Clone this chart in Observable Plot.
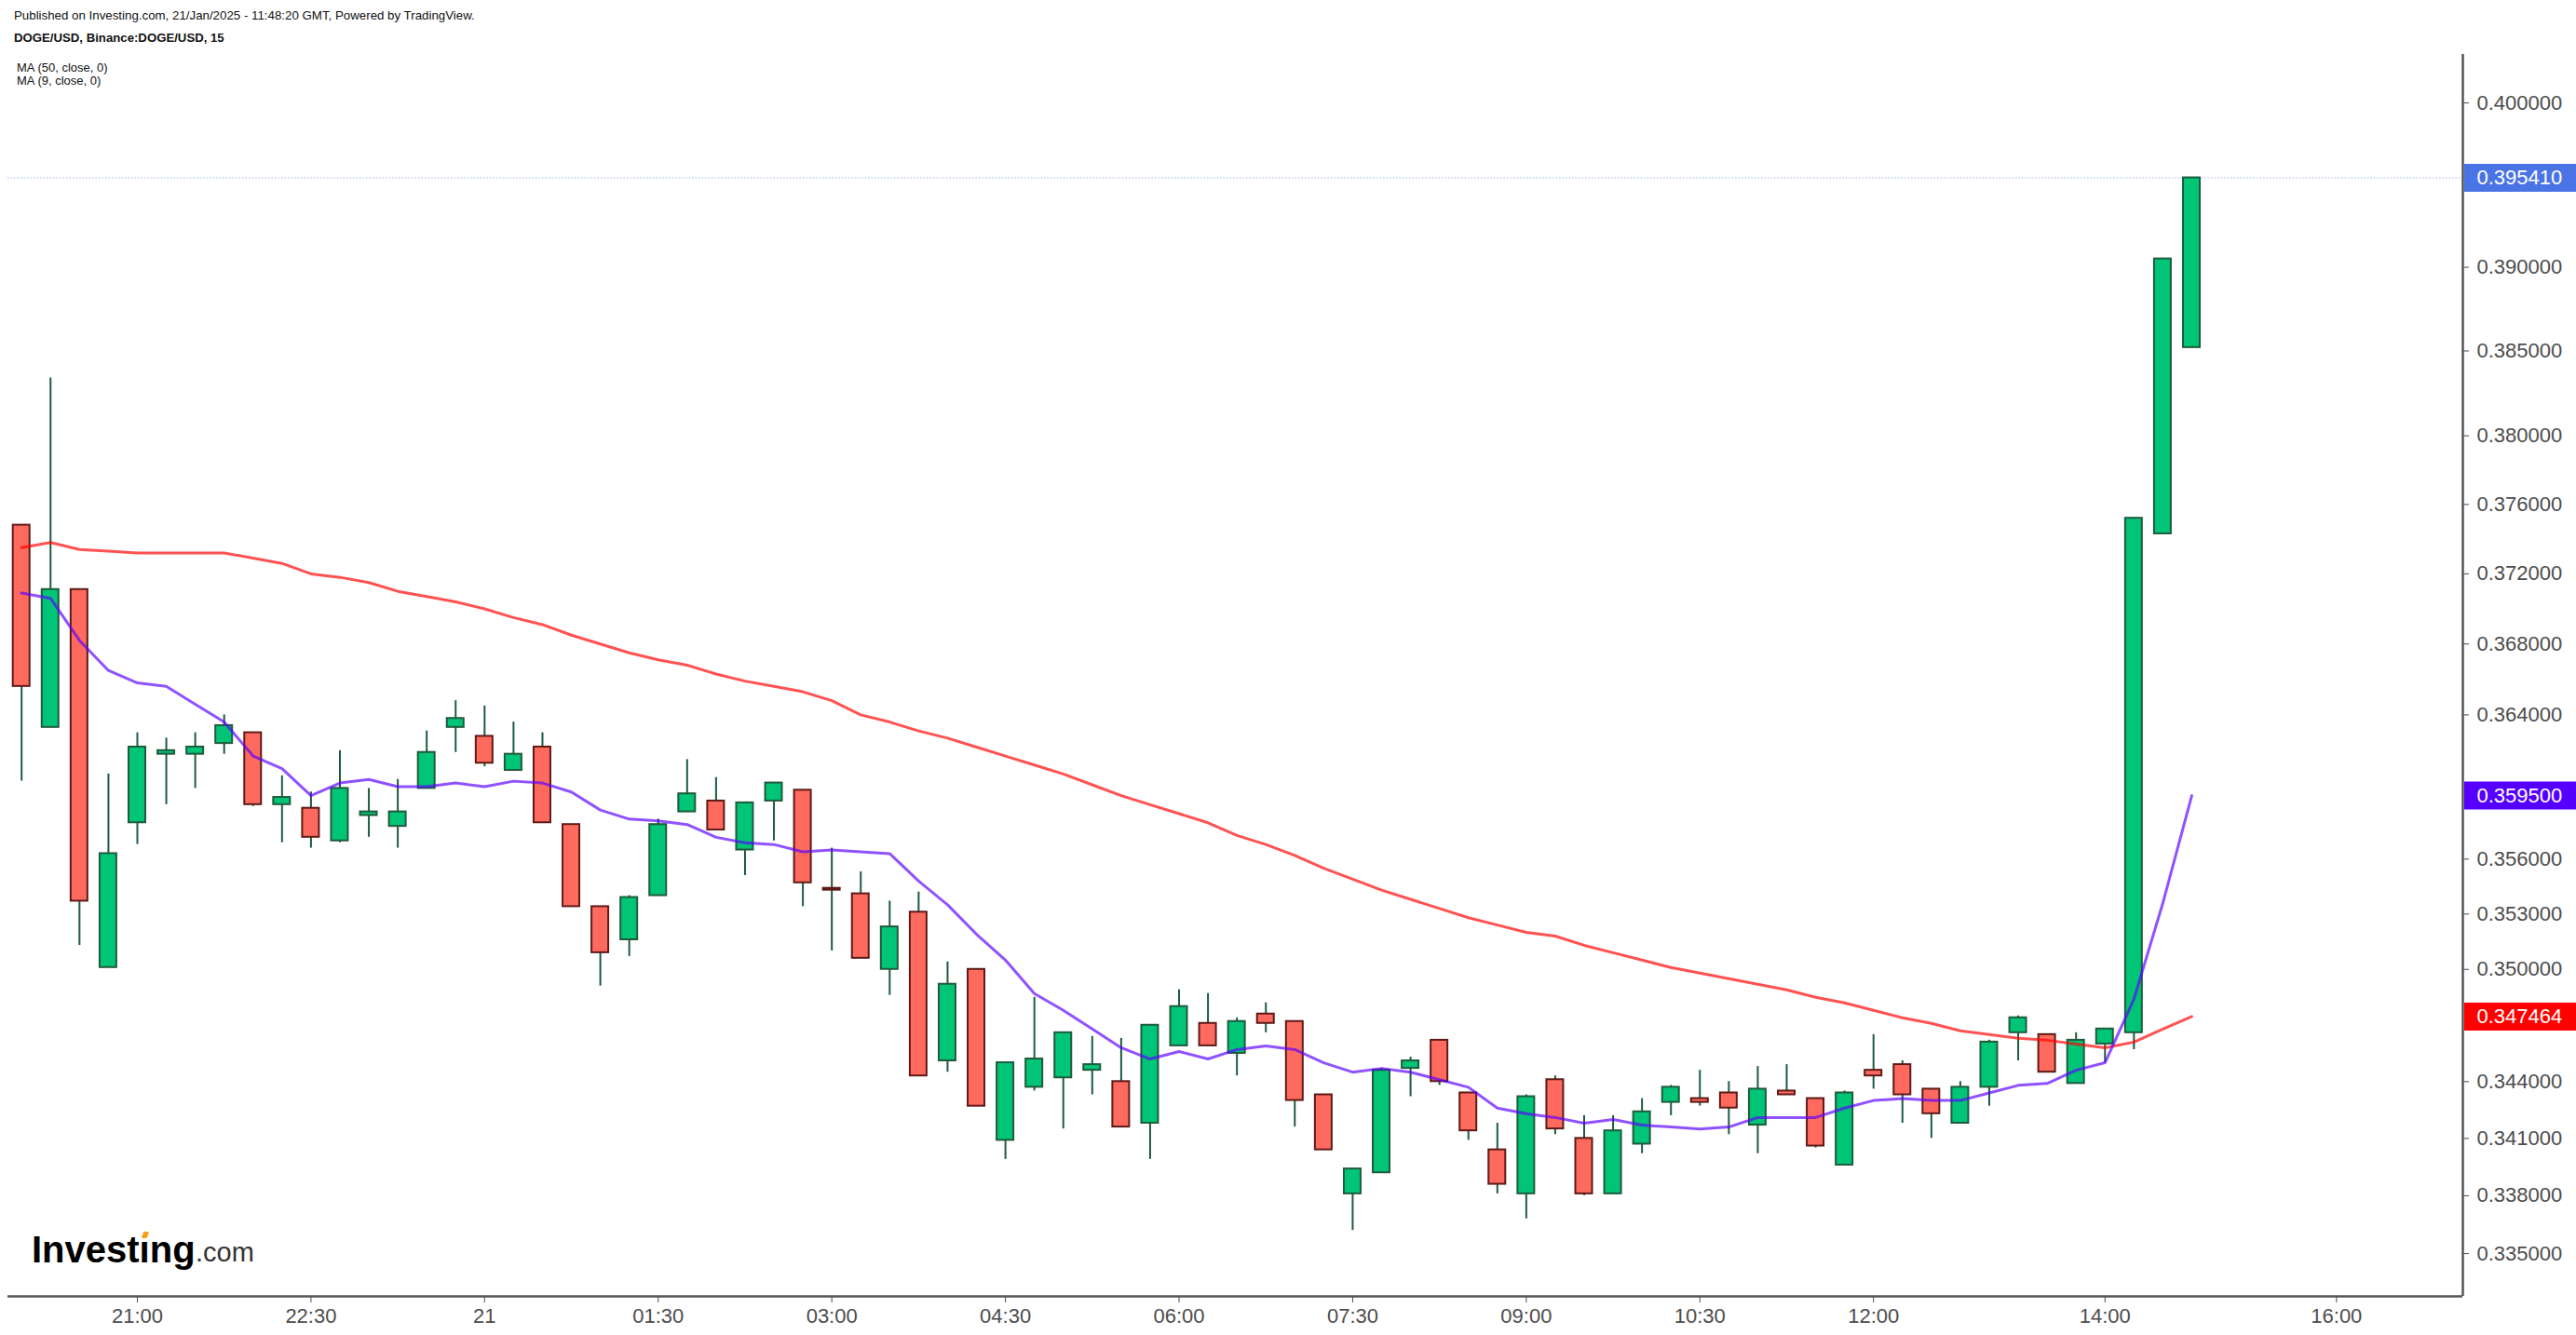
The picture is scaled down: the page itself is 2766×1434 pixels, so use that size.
<!DOCTYPE html>
<html>
<head>
<meta charset="utf-8">
<script src="https://cdn.jsdelivr.net/npm/d3@7"></script>
<script src="https://cdn.jsdelivr.net/npm/@observablehq/plot@0.6"></script>
<style>
  html, body { margin: 0; padding: 0; background: #ffffff; }
  #wrap { position: relative; width: 2766px; height: 1434px; overflow: hidden;
          font-family: "Liberation Sans", Arial, sans-serif; background: #fff; }
  #chart { position: absolute; left: 0; top: 0; }
  .hdr { position: absolute; left: 15px; white-space: nowrap; color: #111; line-height: 1; }
  .logo { position: absolute; white-space: nowrap; line-height: 1; }
  .dot { position: absolute; left: 3px; top: 3px; width: 6px; height: 7px;
         background: #f5a11c; transform: skewX(-18deg); border-radius: 1px; }
</style>
</head>
<body>
<div id="wrap">
  <div id="chart"></div>
  <div class="hdr" style="top:10px;font-size:13.3px;">Published on Investing.com, 21/Jan/2025 - 11:48:20 GMT, Powered by TradingView.</div>
  <div class="hdr" style="top:34px;font-size:13.2px;font-weight:bold;">DOGE/USD, Binance:DOGE/USD, 15</div>
  <div class="hdr" style="top:66px;left:18px;font-size:13px;">MA (50, close, 0)</div>
  <div class="hdr" style="top:80px;left:18px;font-size:13px;">MA (9, close, 0)</div>
  <div class="logo" style="left:34px;top:1322px;font-size:40px;font-weight:bold;color:#000;">Invest<span style="position:relative;">ı<span class="dot"></span></span>ng</div>
  <div class="logo" style="left:210px;top:1331px;font-size:29px;color:#333;">.com</div>
</div>
<script>
// ---- Data (DOGE/USD, 15-minute candles) ----
const firstCandle = "2025-01-20T20:00";   // local chart time of the first candle
const open = [
  0.3748, 0.3633, 0.3711, 0.3501, 0.3580, 0.3618, 0.3618, 0.3624, 0.3630, 0.3590,
  0.3588, 0.3570, 0.3584, 0.3578, 0.3599, 0.3633, 0.3628, 0.3609, 0.3622, 0.3579,
  0.3534, 0.3516, 0.3540, 0.3586, 0.3592, 0.3565, 0.3592, 0.3598, 0.3544, 0.3541,
  0.3500, 0.3531, 0.3451, 0.3500, 0.3409, 0.3437, 0.3442, 0.3446, 0.3440, 0.3418,
  0.3459, 0.3471, 0.3455, 0.3476, 0.3472, 0.3433, 0.3381, 0.3392, 0.3447, 0.3462,
  0.3434, 0.3404, 0.3381, 0.3441, 0.3410, 0.3381, 0.3407, 0.3429, 0.3431, 0.3434,
  0.3417, 0.3435, 0.3431, 0.3396, 0.3446, 0.3449, 0.3436, 0.3418, 0.3437, 0.3466,
  0.3465, 0.3439, 0.3460, 0.3466, 0.3743, 0.3852
];
const high = [
  0.3748, 0.3834, 0.3711, 0.3607, 0.3630, 0.3627, 0.3630, 0.3640, 0.3630, 0.3606,
  0.3597, 0.3620, 0.3599, 0.3604, 0.3631, 0.3648, 0.3645, 0.3636, 0.3630, 0.3579,
  0.3534, 0.3540, 0.3582, 0.3615, 0.3605, 0.3591, 0.3602, 0.3598, 0.3566, 0.3553,
  0.3537, 0.3542, 0.3504, 0.3500, 0.3450, 0.3485, 0.3466, 0.3464, 0.3463, 0.3470,
  0.3489, 0.3487, 0.3474, 0.3482, 0.3472, 0.3433, 0.3394, 0.3447, 0.3453, 0.3462,
  0.3434, 0.3418, 0.3433, 0.3443, 0.3422, 0.3422, 0.3431, 0.3438, 0.3446, 0.3440,
  0.3448, 0.3449, 0.3431, 0.3435, 0.3465, 0.3451, 0.3436, 0.3440, 0.3462, 0.3475,
  0.3465, 0.3466, 0.3468, 0.3752, 0.3905, 0.39541
];
const low = [
  0.3603, 0.3633, 0.3513, 0.3501, 0.3568, 0.3590, 0.3599, 0.3618, 0.3589, 0.3569,
  0.3566, 0.3569, 0.3572, 0.3566, 0.3599, 0.3619, 0.3611, 0.3609, 0.3580, 0.3534,
  0.3491, 0.3507, 0.3540, 0.3586, 0.3576, 0.3551, 0.3570, 0.3534, 0.3510, 0.3506,
  0.3486, 0.3443, 0.3445, 0.3427, 0.3399, 0.3435, 0.3415, 0.3433, 0.3416, 0.3399,
  0.3459, 0.3459, 0.3443, 0.3466, 0.3416, 0.3404, 0.3362, 0.3392, 0.3432, 0.3438,
  0.3409, 0.3381, 0.3368, 0.3412, 0.3380, 0.3381, 0.3402, 0.3422, 0.3427, 0.3412,
  0.3402, 0.3433, 0.3405, 0.3396, 0.3436, 0.3418, 0.3410, 0.3418, 0.3427, 0.3451,
  0.3445, 0.3439, 0.3450, 0.3457, 0.3743, 0.3852
];
const close = [
  0.3656, 0.3711, 0.3537, 0.3563, 0.3622, 0.3620, 0.3622, 0.3634, 0.3590, 0.3594,
  0.3572, 0.3599, 0.3586, 0.3586, 0.3619, 0.3638, 0.3613, 0.3618, 0.3580, 0.3534,
  0.3509, 0.3539, 0.3579, 0.3596, 0.3576, 0.3591, 0.3602, 0.3547, 0.3543, 0.3506,
  0.3523, 0.3443, 0.3492, 0.3427, 0.3450, 0.3452, 0.3466, 0.3449, 0.3416, 0.3470,
  0.3480, 0.3459, 0.3472, 0.3471, 0.3430, 0.3404, 0.3394, 0.3446, 0.3451, 0.3440,
  0.3414, 0.3386, 0.3432, 0.3415, 0.3381, 0.3414, 0.3424, 0.3437, 0.3429, 0.3426,
  0.3436, 0.3433, 0.3406, 0.3434, 0.3443, 0.3433, 0.3423, 0.3437, 0.3461, 0.3474,
  0.3445, 0.3462, 0.3468, 0.3752, 0.3905, 0.39541
];
const ma50 = [
  0.3735, 0.3738, 0.3734, 0.3733, 0.3732, 0.3732, 0.3732, 0.3732, 0.3729, 0.3726,
  0.3720, 0.3718, 0.3715, 0.3710, 0.3707, 0.3704, 0.3700, 0.3695, 0.3691, 0.3685,
  0.3680, 0.3675, 0.3671, 0.3668, 0.3663, 0.3659, 0.3656, 0.3653, 0.3648, 0.3640,
  0.3636, 0.3631, 0.3627, 0.3622, 0.3617, 0.3612, 0.3607, 0.3601, 0.3595, 0.3590,
  0.3585, 0.3580, 0.3573, 0.3568, 0.3562, 0.3555, 0.3549, 0.3543, 0.3538, 0.3533,
  0.3528, 0.3524, 0.3520, 0.3518, 0.3513, 0.3509, 0.3505, 0.3501, 0.3498, 0.3495,
  0.3492, 0.3489, 0.3485, 0.3482, 0.3478, 0.3474, 0.3471, 0.3467, 0.3465, 0.3463,
  0.3462, 0.3460, 0.3458, 0.3461, 0.3468, 0.347464
];
const ma9 = [
  0.3709, 0.3706, 0.3682, 0.3665, 0.3658, 0.3656, 0.3646, 0.3636, 0.3617, 0.3610,
  0.3595, 0.3602, 0.3604, 0.3600, 0.3600, 0.3602, 0.3600, 0.3603, 0.3602, 0.3597,
  0.3587, 0.3582, 0.3581, 0.3579, 0.3572, 0.3569, 0.3568, 0.3564, 0.3565, 0.3564,
  0.3563, 0.3548, 0.3535, 0.3519, 0.3505, 0.3487, 0.3478, 0.3468, 0.3458, 0.3452,
  0.3456, 0.3452, 0.3457, 0.3459, 0.3457, 0.3450, 0.3445, 0.3447, 0.3445, 0.3441,
  0.3437, 0.3426, 0.3423, 0.3421, 0.3418, 0.3420, 0.3417, 0.3416, 0.3415, 0.3416,
  0.3421, 0.3421, 0.3421, 0.3426, 0.3430, 0.3431, 0.3430, 0.3430, 0.3434, 0.3438,
  0.3439, 0.3446, 0.3450, 0.3484, 0.3536, 0.3595
];
const yTicks = [0.335, 0.338, 0.341, 0.344, 0.350, 0.353, 0.356, 0.364, 0.368, 0.372, 0.376, 0.380, 0.385, 0.390, 0.400];
const xTickTimes = ["2025-01-20T21:00","2025-01-20T22:30","2025-01-21T00:00","2025-01-21T01:30","2025-01-21T03:00",
  "2025-01-21T04:30","2025-01-21T06:00","2025-01-21T07:30","2025-01-21T09:00","2025-01-21T10:30",
  "2025-01-21T12:00","2025-01-21T14:00","2025-01-21T16:00"];
const xTickLabels = ["21:00","22:30","21","01:30","03:00","04:30","06:00","07:30","09:00","10:30","12:00","14:00","16:00"];
const lastPrice = 0.395410, lastMA9 = 0.359500, lastMA50 = 0.347464;

// ---- Build ----
const W = 2766, H = 1434;
const mL = 8, mR = 122, mT = 58, mB = 42;
const xStart = new Date("2025-01-20T19:52:54Z");
const xEnd = new Date("2025-01-21T17:05:30Z");
const msPerPx = (xEnd - xStart) / (W - mL - mR);
const halfBody = 9 * msPerPx;

const t0 = new Date(firstCandle + "Z");
const candles = open.map((o, i) => ({
  t: d3.utcMinute.offset(t0, 15 * i),
  o, h: high[i], l: low[i], c: close[i],
  up: close[i] >= open[i],
  ma50: ma50[i], ma9: ma9[i]
}));
const tickDates = xTickTimes.map(s => new Date(s + "Z"));
const tickLabel = new Map(tickDates.map((d, i) => [+d, xTickLabels[i]]));
const tags = [
  {v: lastPrice, bg: "#4a74e6"},
  {v: lastMA9, bg: "#5500ff"},
  {v: lastMA50, bg: "#ff0000"}
];
const fmt = d3.format(".6f");

const GREEN = "#00c576", GREEN_EDGE = "#1e5b3d", RED = "#ff6a5f", RED_EDGE = "#5e1a17";

const chart = Plot.plot({
  width: W, height: H,
  marginLeft: mL, marginRight: mR, marginTop: mT, marginBottom: mB,
  x: {type: "utc", domain: [xStart, xEnd]},
  y: {type: "log", domain: [0.3328, 0.4030]},
  color: {type: "identity"},
  style: {fontFamily: "'Liberation Sans', Arial, sans-serif", fontSize: "22px", background: "transparent", overflow: "visible"},
  marks: [
    Plot.ruleY([lastPrice], {stroke: "#9cb3f2", strokeWidth: 1.2, strokeDasharray: "1.5,2"}),
    Plot.ruleX(candles, {x: "t", y1: "l", y2: "h", stroke: GREEN_EDGE, strokeWidth: 2}),
    Plot.rect(candles, {
      x1: d => new Date(+d.t - halfBody), x2: d => new Date(+d.t + halfBody),
      y1: "o", y2: "c",
      fill: d => d.up ? GREEN : RED,
      stroke: d => d.up ? GREEN_EDGE : RED_EDGE,
      strokeWidth: 2
    }),
    Plot.line(candles, {x: "t", y: "ma50", stroke: "#ff0000", strokeOpacity: 0.68, strokeWidth: 3}),
    Plot.line(candles, {x: "t", y: "ma9", stroke: "#5b00ff", strokeOpacity: 0.68, strokeWidth: 3}),
    Plot.ruleY([0.3328], {stroke: "#555555", strokeWidth: 2.5}),
    Plot.ruleX([xEnd], {stroke: "#555555", strokeWidth: 2.5}),
    Plot.axisY({anchor: "right", ticks: yTicks, tickFormat: fmt, tickSize: 6, tickPadding: 9,
      fontSize: 22, color: "#4d4d4d", label: null}),
    Plot.axisX({anchor: "bottom", ticks: tickDates, tickFormat: d => tickLabel.get(+d), tickSize: 7, tickPadding: 6,
      fontSize: 22, color: "#4d4d4d", label: null}),
    Plot.ruleY(tags, {y: "v", x1: () => new Date(+xEnd + 2 * msPerPx), x2: () => new Date(+xEnd + 130 * msPerPx),
      stroke: "bg", strokeWidth: 30}),
    Plot.text(tags, {y: "v", x: () => new Date(+xEnd + 15 * msPerPx), text: d => fmt(d.v),
      textAnchor: "start", lineAnchor: "middle", fill: "white", fontSize: 22})
  ]
});
document.getElementById("chart").appendChild(chart);
</script>
</body>
</html>
